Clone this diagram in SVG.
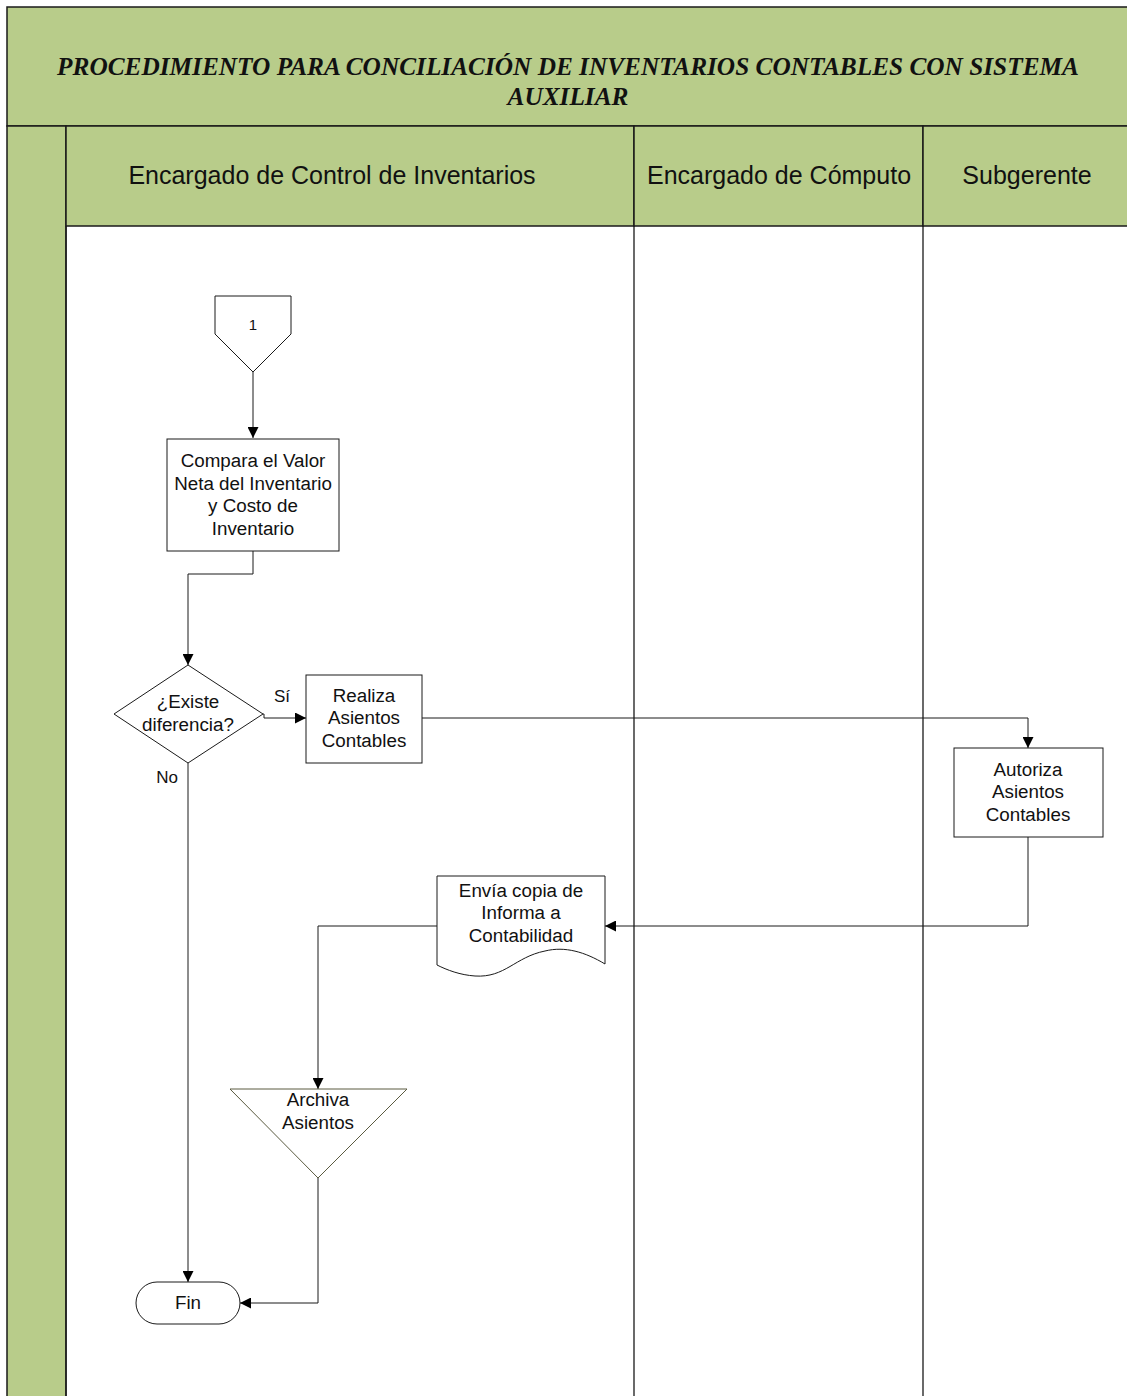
<svg xmlns="http://www.w3.org/2000/svg" width="1127" height="1396" viewBox="0 0 1127 1396">
  <style>
    .band { fill: #b8cc8a; stroke: #1a1a1a; stroke-width: 1.5; }
    .lane { fill: #ffffff; stroke: #1a1a1a; stroke-width: 1.3; }
    .node { fill: #ffffff; stroke: #1a1a1a; stroke-width: 1; }
    .tri { fill: #ffffff; stroke: #5a5a40; stroke-width: 1; }
    .edge { fill: none; stroke: #1a1a1a; stroke-width: 1; }
    .title { font-family: "Liberation Serif", serif; font-weight: bold; font-style: italic; font-size: 25.3px; fill: #111; text-anchor: middle; }
    .hdr { font-family: "Liberation Sans", Arial, sans-serif; font-size: 25px; fill: #111; text-anchor: middle; }
    .lbl { font-family: "Liberation Sans", Arial, sans-serif; font-size: 18.8px; fill: #111; text-anchor: middle; }
    .sm { font-family: "Liberation Sans", Arial, sans-serif; font-size: 17px; fill: #111; text-anchor: middle; }
  </style>
  <defs>
    <marker id="arrow" viewBox="0 0 10 10" refX="10" refY="5" markerWidth="11" markerHeight="11" markerUnits="userSpaceOnUse" orient="auto">
      <path d="M0,0 L10,5 L0,10 Z" fill="#000"/>
    </marker>
  </defs>

  <rect x="0" y="0" width="1127" height="1396" fill="#ffffff"/>

  <!-- pool frame -->
  <g id="pool">
    <rect class="band" x="7" y="7" width="1125" height="119"/>
    <rect class="band" x="7" y="126" width="59" height="1275"/>
    <rect class="band" x="66" y="126" width="568" height="100"/>
    <rect class="band" x="634" y="126" width="289" height="100"/>
    <rect class="band" x="923" y="126" width="209" height="100"/>
    <line class="lane" x1="66" y1="226" x2="66" y2="1396"/>
    <line class="lane" x1="634" y1="226" x2="634" y2="1396"/>
    <line class="lane" x1="923" y1="226" x2="923" y2="1396"/>
    <text class="title" x="568" y="75">PROCEDIMIENTO PARA CONCILIACIÓN DE INVENTARIOS CONTABLES CON SISTEMA</text>
    <text class="title" x="568" y="105">AUXILIAR</text>
    <text class="hdr" x="332" y="184">Encargado de Control de Inventarios</text>
    <text class="hdr" x="779" y="184">Encargado de Cómputo</text>
    <text class="hdr" x="1027" y="184">Subgerente</text>
  </g>

  <!-- connectors -->
  <g id="connectors">
    <path class="edge" d="M253,372 L253,438" marker-end="url(#arrow)"/>
    <path class="edge" d="M253,551 L253,574 L188,574 L188,665" marker-end="url(#arrow)"/>
    <path class="edge" d="M263,714 L264,714 L264,718 L306,718" marker-end="url(#arrow)"/>
    <path class="edge" d="M422,718 L1028,718 L1028,748" marker-end="url(#arrow)"/>
    <path class="edge" d="M1028,837 L1028,926 L605,926" marker-end="url(#arrow)"/>
    <path class="edge" d="M437,926 L318,926 L318,1089" marker-end="url(#arrow)"/>
    <path class="edge" d="M318,1178 L318,1303 L240,1303" marker-end="url(#arrow)"/>
    <path class="edge" d="M188,763 L188,1282" marker-end="url(#arrow)"/>
    <text class="sm" x="282" y="702">Sí</text>
    <text class="sm" x="167" y="783">No</text>
  </g>

  <g id="node-conector-1">
    <path class="node" d="M215,296 L291,296 L291,334 L253,372 L215,334 Z"/>
    <text class="sm" x="253" y="330" style="font-size:15px">1</text>
  </g>

  <g id="node-compara">
    <rect class="node" x="167" y="439" width="172" height="112"/>
    <text class="lbl" x="253" y="467">Compara el Valor</text>
    <text class="lbl" x="253" y="490">Neta del Inventario</text>
    <text class="lbl" x="253" y="512">y Costo de</text>
    <text class="lbl" x="253" y="535">Inventario</text>
  </g>

  <g id="node-existe">
    <path class="node" d="M188,665 L263,714 L188,763 L114,714 Z"/>
    <text class="lbl" x="188" y="708">¿Existe</text>
    <text class="lbl" x="188" y="731">diferencia?</text>
  </g>

  <g id="node-realiza">
    <rect class="node" x="306" y="675" width="116" height="88"/>
    <text class="lbl" x="364" y="702">Realiza</text>
    <text class="lbl" x="364" y="724">Asientos</text>
    <text class="lbl" x="364" y="747">Contables</text>
  </g>

  <g id="node-autoriza">
    <rect class="node" x="954" y="748" width="149" height="89"/>
    <text class="lbl" x="1028" y="776">Autoriza</text>
    <text class="lbl" x="1028" y="798">Asientos</text>
    <text class="lbl" x="1028" y="821">Contables</text>
  </g>

  <g id="node-envia">
    <path class="node" d="M437,876 L605,876 L605,964 C585,952 565,946 545,951 C515,957 505,978 475,976 C460,975 447,970 437,965 Z"/>
    <text class="lbl" x="521" y="897">Envía copia de</text>
    <text class="lbl" x="521" y="919">Informa a</text>
    <text class="lbl" x="521" y="942">Contabilidad</text>
  </g>

  <g id="node-archiva">
    <path class="tri" d="M230,1089 L407,1089 L318,1178 Z"/>
    <text class="lbl" x="318" y="1106">Archiva</text>
    <text class="lbl" x="318" y="1129">Asientos</text>
  </g>

  <g id="node-fin">
    <rect class="node" x="136" y="1282" width="104" height="42" rx="21" ry="21"/>
    <text class="lbl" x="188" y="1309">Fin</text>
  </g>
</svg>
